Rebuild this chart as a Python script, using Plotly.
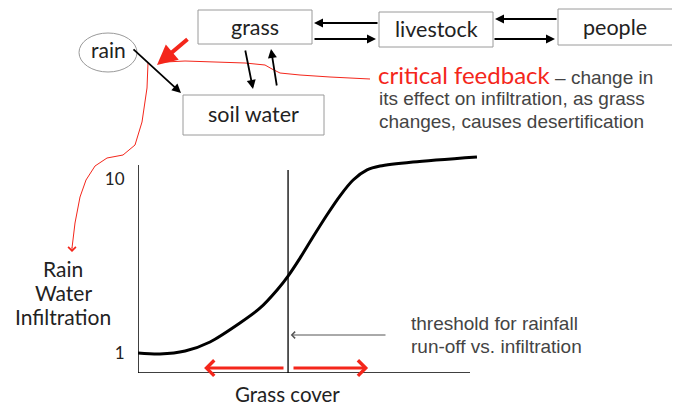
import plotly.graph_objects as go

# page body has an 8px margin: size the figure to fit and offset pixel coordinates
OFF = 8
W, H = 680 - OFF, 405 - OFF

# ---- data (curve) ----
grass_cover = [0, 6.6, 14.2, 21.7, 30.7, 36.8, 41.9, 45.2, 48.8, 52.7, 56.9, 60.8, 64.8, 69.0, 72.9, 82.8, 102.1]
infiltration = [1.0, 0.95, 1.10, 1.57, 2.55, 3.33, 4.26, 4.98, 5.91, 7.00, 8.14, 9.12, 9.95, 10.47, 10.67, 10.88, 11.14]
y_tick_vals = [1, 10]
y_tick_text = ["1", "10"]
threshold_x = 45.2
arrow_left_tip = 19.9
arrow_right_tip = 69.3
arrow_y = 0.22
box_labels = ["grass", "livestock", "people", "soil water"]

RED = "#f4261b"
TXT = "#222222"
GRAY = "#444444"

def px(x):
    return (x - OFF) / W

def py(y):
    return 1 - (y - OFF) / H

fig = go.Figure()
fig.add_trace(go.Scatter(x=grass_cover, y=infiltration, mode="lines",
                         line=dict(color="black", width=3, shape="spline", smoothing=0.8),
                         hoverinfo="skip", showlegend=False))

# axis geometry
x0_px, x1_px = 138, 470
ybot_px = 373
sx = (x1_px - x0_px) / 100.0
sy = 19.33
ymin = 1 - (ybot_px - 353) / sy
ymax = 1 + (353 - 150) / sy
xmax = (485 - x0_px) / sx

fig.update_layout(
    width=W, height=H, margin=dict(l=0, r=0, t=0, b=0),
    paper_bgcolor="white", plot_bgcolor="white",
    xaxis=dict(domain=[px(x0_px), px(485)], range=[0, xmax], showgrid=False, zeroline=False,
               showticklabels=False, showline=False),
    yaxis=dict(domain=[py(ybot_px), py(150)], range=[ymin, ymax], showgrid=False, zeroline=False,
               showline=False, tickvals=y_tick_vals, ticktext=y_tick_text,
               ticks="outside", ticklen=9, tickcolor="rgba(0,0,0,0)",
               tickfont=dict(family="Lato", size=17, color=TXT)),
)

shapes = []
# axis lines
shapes.append(dict(type="line", xref="x", yref="y", x0=0, x1=0, y0=ymin, y1=1 + (353 - 165) / sy,
                   line=dict(color="black", width=1.5)))
shapes.append(dict(type="line", xref="x", yref="y", x0=0, x1=100, y0=ymin, y1=ymin,
                   line=dict(color="black", width=1.5)))
# threshold line
shapes.append(dict(type="line", xref="x", yref="y", x0=threshold_x, x1=threshold_x, y0=ymin,
                   y1=1 + (353 - 170) / sy, line=dict(color="black", width=1.3)))

# boxes (pixel positions)
boxes = [(198, 10, 312, 44), (379, 12, 493, 47), (558, 9, 673, 45), (183, 95, 324, 135)]
for (a, b, c, d) in boxes:
    shapes.append(dict(type="rect", xref="paper", yref="paper", x0=px(a), x1=px(c), y0=py(d), y1=py(b),
                       line=dict(color="#9a9a9a", width=1), fillcolor="white"))
# rain ellipse
shapes.append(dict(type="circle", xref="paper", yref="paper", x0=px(79), x1=px(137), y0=py(72), y1=py(33),
                   line=dict(color="#9a9a9a", width=1)))

# red thin feedback line
fb = [(370, 79), (330, 77), (300, 75), (280, 73), (272, 69), (265, 65), (245, 63), (215, 62), (185, 61), (165, 62)]
path = "M " + " L ".join(f"{px(a)},{py(b)}" for a, b in fb)
shapes.append(dict(type="path", xref="paper", yref="paper", path=path, line=dict(color=RED, width=1)))
# red thin curve down to y-axis label
dn = [(148, 63), (147, 88), (142, 122), (135, 145), (123, 155), (107, 158), (95, 166), (86, 180),
      (80, 197), (75, 223), (72, 248)]
path2 = "M " + " L ".join(f"{px(a)},{py(b)}" for a, b in dn)
shapes.append(dict(type="path", xref="paper", yref="paper", path=path2, line=dict(color=RED, width=1)))
fig.update_layout(shapes=shapes)

ann = []
def arrow(tip, tail, color="black", width=1.8, head=2, size=1.0):
    ann.append(dict(xref="paper", yref="paper", x=px(tip[0]), y=py(tip[1]),
                    ax=tail[0] - tip[0], ay=tail[1] - tip[1], text="", showarrow=True,
                    arrowhead=head, arrowsize=size, arrowwidth=width, arrowcolor=color))

arrow((314, 23), (379, 23))
arrow((376, 39), (313, 39))
arrow((495, 19), (558, 19))
arrow((555, 39), (493, 39))
arrow((253, 89), (245, 49))
arrow((271, 49), (277, 87))
arrow((181, 93), (132, 48))
arrow((157, 65), (189, 38), color=RED, width=4, head=2, size=1.0)
arrow((72, 252), (72, 246), color=RED, width=1, head=4, size=1.5)

# data-space arrows
ann.append(dict(xref="x", yref="y", axref="x", ayref="y", x=arrow_left_tip, y=arrow_y,
                ax=(285 - x0_px) / sx, ay=arrow_y, text="", showarrow=True,
                arrowhead=4, arrowsize=1.0, arrowwidth=3, arrowcolor=RED))
ann.append(dict(xref="x", yref="y", axref="x", ayref="y", x=arrow_right_tip, y=arrow_y,
                ax=(292 - x0_px) / sx, ay=arrow_y, text="", showarrow=True,
                arrowhead=4, arrowsize=1.0, arrowwidth=3, arrowcolor=RED))
ann.append(dict(xref="x", yref="y", axref="x", ayref="y", x=threshold_x + 0.8, y=1 + (353 - 335) / sy,
                ax=(387 - x0_px) / sx, ay=1 + (353 - 335) / sy, text="", showarrow=True,
                arrowhead=4, arrowsize=1.3, arrowwidth=1, arrowcolor="#555555"))

def label(x, y, text, size, color=TXT, family="Lato", xanchor="center"):
    ann.append(dict(xref="paper", yref="paper", x=px(x), y=py(y), text=text, showarrow=False,
                    xanchor=xanchor, yanchor="middle", font=dict(family=family, size=size, color=color)))

label(255, 27, box_labels[0], 21.5)
label(436, 29, box_labels[1], 21.5)
label(615, 27, box_labels[2], 21.5)
label(253, 114, box_labels[3], 21.5)
label(108, 50, "rain", 21)

label(376, 75, f"<span style='color:{RED}'>critical feedback</span>"
      f"<span style='font-family:Liberation Sans;font-size:19px;color:{GRAY}'> – change in</span>",
      24, color=RED, xanchor="left")
label(377, 98, "its effect on infiltration, as grass", 19, color=GRAY, family="Liberation Sans", xanchor="left")
label(377, 121, "changes, causes desertification", 19, color=GRAY, family="Liberation Sans", xanchor="left")

label(409, 323, "threshold for rainfall", 19, color=GRAY, family="Liberation Sans", xanchor="left")
label(409, 346, "run-off vs. infiltration", 19, color=GRAY, family="Liberation Sans", xanchor="left")

label(63, 268, "Rain", 21)
label(63, 292, "Water", 21)
label(63, 316, "Infiltration", 21)
label(287, 394, "Grass cover", 20.5)

fig.update_layout(annotations=ann)
fig.write_html("out.html")
